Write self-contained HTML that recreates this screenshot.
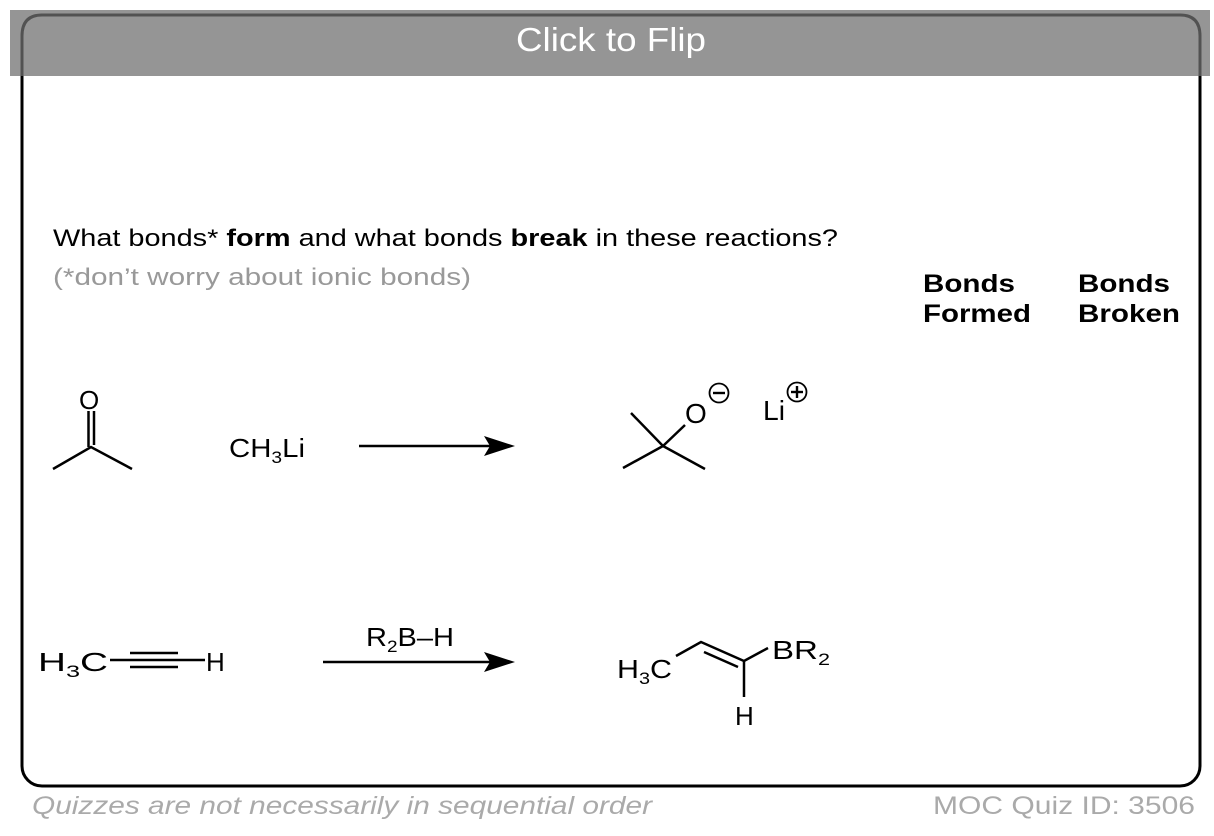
<!DOCTYPE html>
<html><head><style>
html,body{margin:0;padding:0;background:#fff;width:1214px;height:836px;overflow:hidden}
svg{display:block}
text{font-family:"Liberation Sans",Arial,sans-serif}
</style></head><body>
<svg width="1214" height="836" viewBox="0 0 1214 836" xmlns="http://www.w3.org/2000/svg">
<rect x="0" y="0" width="1214" height="836" fill="#fff"/>
<rect x="22" y="15" width="1178" height="771" rx="20" ry="20" fill="#fff" stroke="#000" stroke-width="3"/>
<rect x="10" y="10" width="1200" height="66" fill="#959595"/>
<path d="M22,76 V36 Q22,15 42,15 H1180 Q1200,15 1200,36 V76" fill="none" stroke="#000" stroke-width="3"/>
<rect x="10" y="10" width="1200" height="66" fill="#959595" opacity="0.55"/>
<text x="611" y="51" font-size="33" fill="#fff" text-anchor="middle" textLength="190" lengthAdjust="spacingAndGlyphs">Click to Flip</text>

<text x="53" y="246" font-size="24" fill="#000" textLength="785" lengthAdjust="spacingAndGlyphs">What bonds* <tspan font-weight="bold">form</tspan> and what bonds <tspan font-weight="bold">break</tspan> in these reactions?</text>
<text x="53" y="285" font-size="24" fill="#999" textLength="418" lengthAdjust="spacingAndGlyphs">(*don’t worry about ionic bonds)</text>
<text x="923" y="292" font-size="25" font-weight="bold" textLength="92" lengthAdjust="spacingAndGlyphs">Bonds</text>
<text x="923" y="322" font-size="25" font-weight="bold" textLength="108" lengthAdjust="spacingAndGlyphs">Formed</text>
<text x="1078" y="292" font-size="25" font-weight="bold" textLength="92" lengthAdjust="spacingAndGlyphs">Bonds</text>
<text x="1078" y="322" font-size="25" font-weight="bold" textLength="102" lengthAdjust="spacingAndGlyphs">Broken</text>

<g stroke="#000" stroke-width="2.5" fill="none">
<polyline points="53,469 91,447 132,469"/>
<line x1="88.5" y1="411" x2="88.5" y2="447"/>
<line x1="94" y1="411" x2="94" y2="445"/>
<line x1="359" y1="446" x2="495" y2="446"/>
<line x1="631" y1="413" x2="663" y2="446"/>
<line x1="623" y1="468" x2="663" y2="446"/>
<line x1="705" y1="469" x2="663" y2="446"/>
<line x1="663" y1="446" x2="685" y2="425"/>
<circle cx="719" cy="393" r="9.5" stroke-width="1.8"/>
<line x1="713" y1="393" x2="725" y2="393" stroke-width="2.4"/>
<circle cx="797" cy="392" r="9.5" stroke-width="1.8"/>
<line x1="791" y1="392" x2="803" y2="392" stroke-width="2.4"/>
<line x1="797" y1="386" x2="797" y2="398" stroke-width="2.4"/>
<line x1="110" y1="660" x2="205" y2="660"/>
<line x1="130" y1="653" x2="178" y2="653"/>
<line x1="130" y1="667" x2="178" y2="667"/>
<line x1="323" y1="662" x2="495" y2="662"/>
<polyline points="676,656 701,642 744,661 768,648"/>
<line x1="704" y1="652" x2="738" y2="667"/>
<line x1="744" y1="661" x2="744" y2="697"/>
</g>
<polygon points="515,446 484,436 490,446 484,456" fill="#000"/>
<polygon points="515,662 484,652 490,662 484,672" fill="#000"/>

<g font-size="26" fill="#000">
<text x="79" y="409">O</text>
<text x="229" y="457" textLength="76" lengthAdjust="spacingAndGlyphs">CH<tspan font-size="17" dy="6">3</tspan><tspan dy="-6">Li</tspan></text>
<text x="685" y="423" font-size="28">O</text>
<text x="763" y="420" font-size="28" textLength="22" lengthAdjust="spacingAndGlyphs">Li</text>
<text x="38" y="671" textLength="70" lengthAdjust="spacingAndGlyphs">H<tspan font-size="17" dy="6">3</tspan><tspan dy="-6">C</tspan></text>
<text x="206" y="671">H</text>
<text x="366" y="646" textLength="88" lengthAdjust="spacingAndGlyphs">R<tspan font-size="17" dy="6">2</tspan><tspan dy="-6">B–H</tspan></text>
<text x="617" y="678" textLength="55" lengthAdjust="spacingAndGlyphs">H<tspan font-size="17" dy="6">3</tspan><tspan dy="-6">C</tspan></text>
<text x="772" y="659" textLength="58" lengthAdjust="spacingAndGlyphs">BR<tspan font-size="17" dy="6">2</tspan></text>
<text x="735" y="725">H</text>
</g>

<text x="32" y="814" font-size="25" font-style="italic" fill="#aaa" textLength="620" lengthAdjust="spacingAndGlyphs">Quizzes are not necessarily in sequential order</text>
<text x="1195" y="814" font-size="25" fill="#aaa" text-anchor="end" textLength="262" lengthAdjust="spacingAndGlyphs">MOC Quiz ID: 3506</text>
</svg>
</body></html>
